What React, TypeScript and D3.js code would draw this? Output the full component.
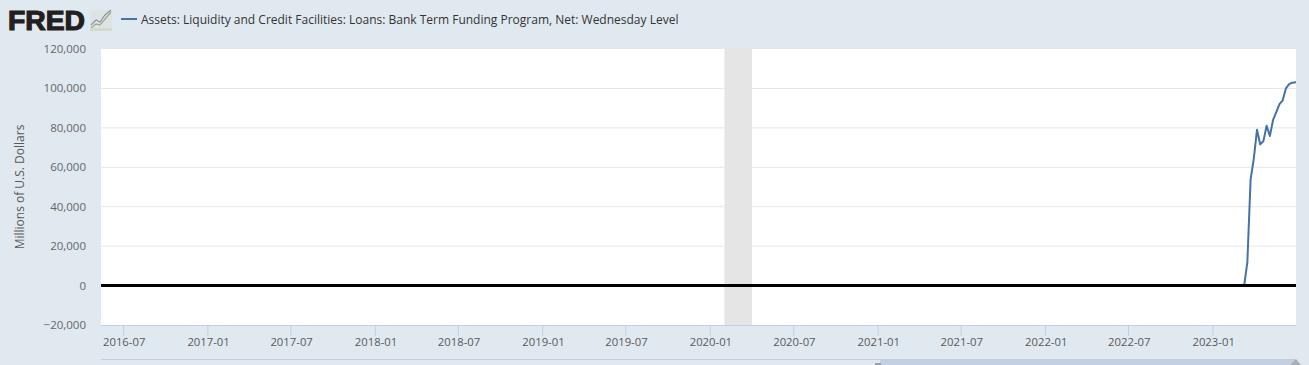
import React from "react";
import * as d3 from "d3";

const seriesTitle = "Assets: Liquidity and Credit Facilities: Loans: Bank Term Funding Program, Net: Wednesday Level";
const yAxisTitle = "Millions of U.S. Dollars";
const yTicks = [-20000, 0, 20000, 40000, 60000, 80000, 100000, 120000];
const xTicks = ["2016-07","2017-01","2017-07","2018-01","2018-07","2019-01","2019-07","2020-01","2020-07","2021-01","2021-07","2022-01","2022-07","2023-01"];
const recession = ["2020-02-01", "2020-04-01"];
const dates = ["2016-05-13","2023-03-10","2023-03-17","2023-03-24","2023-03-31","2023-04-07","2023-04-14","2023-04-21","2023-04-28","2023-05-05","2023-05-12","2023-05-19","2023-05-26","2023-06-02","2023-06-09","2023-06-16","2023-06-23","2023-06-30","2023-07-01"];
const values = [0,0,11900,53700,64400,79000,71600,73300,81100,75900,84000,88000,92000,94000,100000,102200,102900,103100,103100];

const parseDay = d3.timeParse("%Y-%m-%d");
const parseMonth = d3.timeParse("%Y-%m");

const L = 101, R = 1296, T = 49, B = 325;

export default function App() {
  const x = d3.scaleTime()
    .domain([parseDay("2016-05-13")!, parseDay("2023-07-01")!])
    .range([L, R]);
  const y = d3.scaleLinear().domain([-20000, 120000]).range([B, T]);
  const line = d3.line<number>()
    .x((_, i) => x(parseDay(dates[i])!))
    .y((v) => y(v));
  const fmt = d3.format(",");
  const font = "'Open Sans', sans-serif";
  return (
    <svg width={1309} height={365} style={{ position: "fixed", left: 0, top: 0, display: "block" }} fontFamily={font}>
      <rect width={1309} height={365} fill="#e1e9f0" />
      <text x={8} y={30} fontFamily="'Liberation Sans', Arial, sans-serif" fontWeight={700} fontSize={28.5} fill="#231f20" stroke="#231f20" strokeWidth={1.2} textLength={77} lengthAdjust="spacingAndGlyphs">FRED</text>
      <g>
        <rect x={90} y={10} width={22} height={21} fill="#dde4e3" />
        <polyline points="91,28 96,24 100,25 106,18 111,12" fill="none" stroke="#9fb089" strokeWidth={1.4} />
        <polyline points="91,25 96,20 100,22 105,15 111,10" fill="none" stroke="#7f93a8" strokeWidth={1.1} />
        <rect x={90} y={28} width={22} height={3} fill="#d2dac8" />
      </g>
      <line x1={121} x2={137} y1={19} y2={19} stroke="#4572a7" strokeWidth={2} />
      <text x={141} y={24} fontSize={12} fill="#333333">{seriesTitle}</text>

      <rect x={L} y={T} width={R - L} height={B - T} fill="#ffffff" />
      <rect x={x(parseDay(recession[0])!)} y={T} width={x(parseDay(recession[1])!) - x(parseDay(recession[0])!)} height={B - T} fill="#e5e5e5" />
      {yTicks.filter((t) => t !== 0 && t !== -20000 && t !== 120000).map((t) => (
        <line key={t} x1={L} x2={R} y1={y(t)} y2={y(t)} stroke="#e6e6e6" strokeWidth={1} />
      ))}
      <line x1={L} x2={R} y1={B + 0.5} y2={B + 0.5} stroke="#c0d0e0" strokeWidth={1} />
      {xTicks.map((t) => {
        const px = x(parseMonth(t)!);
        return (
          <g key={t}>
            <line x1={px} x2={px} y1={B} y2={B + 11} stroke="#c0d0e0" strokeWidth={1} />
            <text x={px + 0.7} y={346} textAnchor="middle" fontSize={11.3} fill="#595959">{t}</text>
          </g>
        );
      })}
      {yTicks.map((t) => (
        <text key={t} x={86} y={y(t) + 4} textAnchor="end" fontSize={11.5} fill="#666666">{fmt(t)}</text>
      ))}
      <text transform={`translate(24,${187}) rotate(-90)`} textAnchor="middle" fontSize={12} fill="#595959">{yAxisTitle}</text>
      <path d={line(values) ?? ""} fill="none" stroke="#4572a7" strokeWidth={2} strokeLinejoin="round" />
      <line x1={L} x2={R} y1={y(0)} y2={y(0)} stroke="#000000" strokeWidth={3} />
      <line x1={101} x2={R} y1={359.5} y2={359.5} stroke="#c5ced8" strokeWidth={1} />
      <rect x={880} y={360} width={R - 880} height={5} fill="#c3cfe3" />
      <rect x={875} y={363} width={6} height={2} fill="#9aa0a8" />
      <path d="M1290,365 L1296,359 L1301,365 Z" fill="#a9b0b8" />
    </svg>
  );
}
